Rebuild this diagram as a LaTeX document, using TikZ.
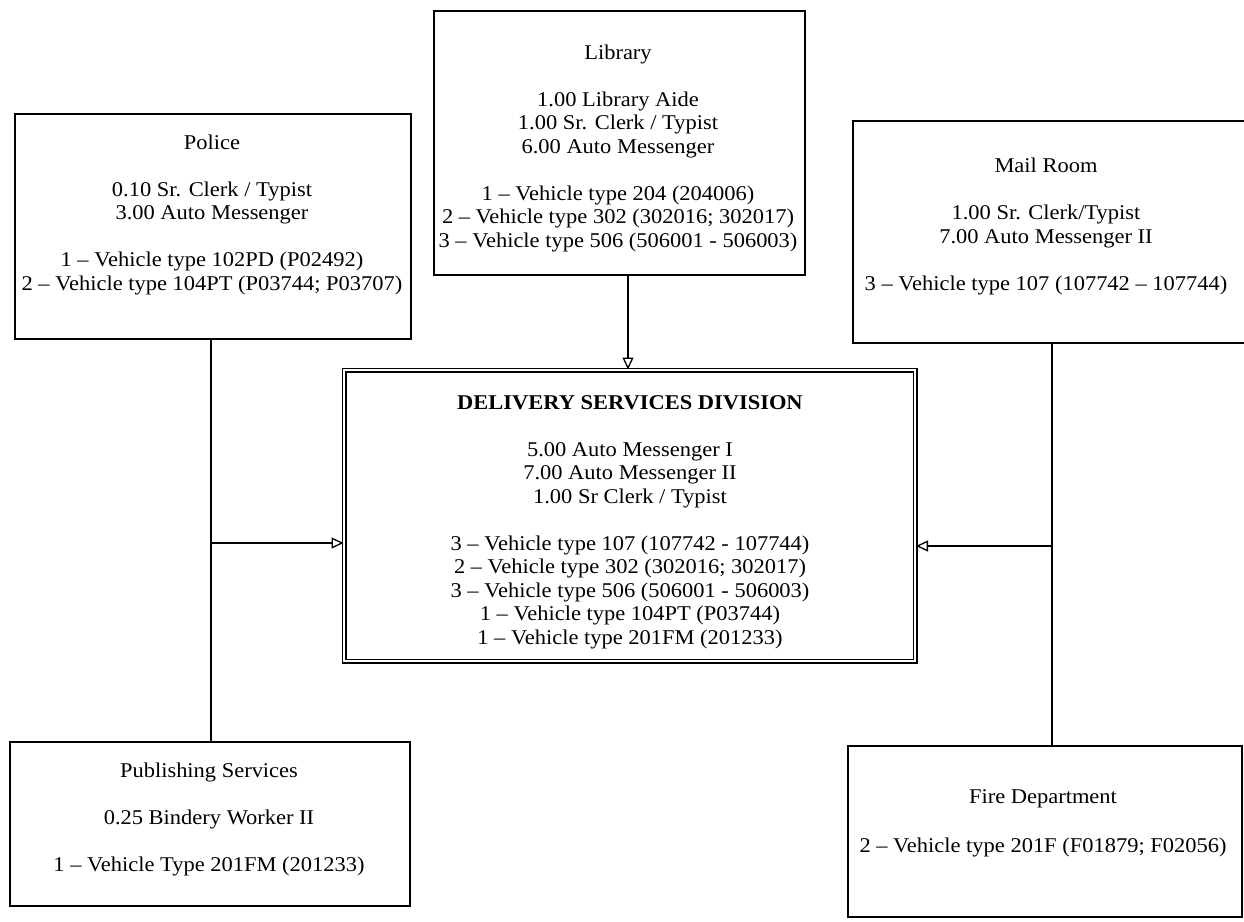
\documentclass[tikz,border=0pt]{standalone}
\usepackage{fontspec}
\setmainfont{Liberation Serif}[FakeStretch=1.07]
\usetikzlibrary{arrows.meta}
\tikzset{
  box/.style={draw, line width=1.8pt, inner sep=0pt, anchor=north west},
  dbox/.style={draw, line width=1.5pt, double, double distance=2.4pt, inner sep=0pt, anchor=north west},
  txt/.style={anchor=base, align=center, inner sep=0pt, font={\fontsize{21pt}{23.5pt}\selectfont}},
  conn/.style={line width=1.4pt},
  arr/.style={conn, -{Triangle[open, length=12pt, width=11pt, line width=1.3pt]}}
}
\newcommand{\gp}{\\[23.5pt]}
\begin{document}
\begin{tikzpicture}[x=1pt, y=-1pt]
\useasboundingbox (0,0) rectangle (1244,921);
\clip (0,0) rectangle (1244,921);
\fill[white] (0,0) rectangle (1244,921);
% boxes
\node[box, minimum width=371pt, minimum height=264pt] (lib) at (433,10) {};
\node[box, minimum width=396pt, minimum height=225pt] (pol) at (14,113) {};
\node[box, minimum width=408pt, minimum height=222pt] (mail) at (852,120) {};
\node[dbox, minimum width=571pt, minimum height=291pt] (del) at (343.5,369.5) {};
\node[box, minimum width=400pt, minimum height=164pt] (pub) at (9,741) {};
\node[box, minimum width=394pt, minimum height=171pt] (fire) at (847,745) {};
% texts (anchored at the baseline of the last line)
\node[txt] (libT) at (618,247) {Library\gp 1.00 Library Aide\\1.00 Sr. Clerk / Typist\\6.00 Auto Messenger\gp 1 -- Vehicle type 204 (204006)\\2 -- Vehicle type 302 (302016; 302017)\\3 -- Vehicle type 506 (506001 - 506003)};
\node[txt] (polT) at (212,290) {Police\gp 0.10 Sr. Clerk / Typist\\3.00 Auto Messenger\gp 1 -- Vehicle type 102PD (P02492)\\2 -- Vehicle type 104PT (P03744; P03707)};
\node[txt] (mailT) at (1046,290) {Mail Room\gp 1.00 Sr. Clerk/Typist\\7.00 Auto Messenger II\gp 3 -- Vehicle type 107 (107742 -- 107744)};
\node[txt] (delT) at (630,644) {\textbf{DELIVERY SERVICES DIVISION}\gp 5.00 Auto Messenger I\\7.00 Auto Messenger II\\1.00 Sr Clerk / Typist\gp 3 -- Vehicle type 107 (107742 - 107744)\\2 -- Vehicle type 302 (302016; 302017)\\3 -- Vehicle type 506 (506001 - 506003)\\1 -- Vehicle type 104PT (P03744)\\1 -- Vehicle type 201FM (201233)};
\node[txt] (pubT) at (209,871) {Publishing Services\gp 0.25 Bindery Worker II\gp 1 -- Vehicle Type 201FM (201233)};
\node[txt] (fireT) at (1043,852) {Fire Department\\[25pt]2 -- Vehicle type 201F (F01879; F02056)};
% connectors
\coordinate (lj) at (628,274);
\coordinate (pj) at (211,543);
\coordinate (mj) at (1052,546);
\draw[arr] (lj |- lib.south) -- (lj |- del.north);
\draw[conn] (pj |- pol.south) -- (pj |- pub.north);
\draw[arr] (pj) -- (pj -| del.west);
\draw[conn] (mj |- mail.south) -- (mj |- fire.north);
\draw[arr] (mj) -- (mj -| del.east);
\end{tikzpicture}
\end{document}
